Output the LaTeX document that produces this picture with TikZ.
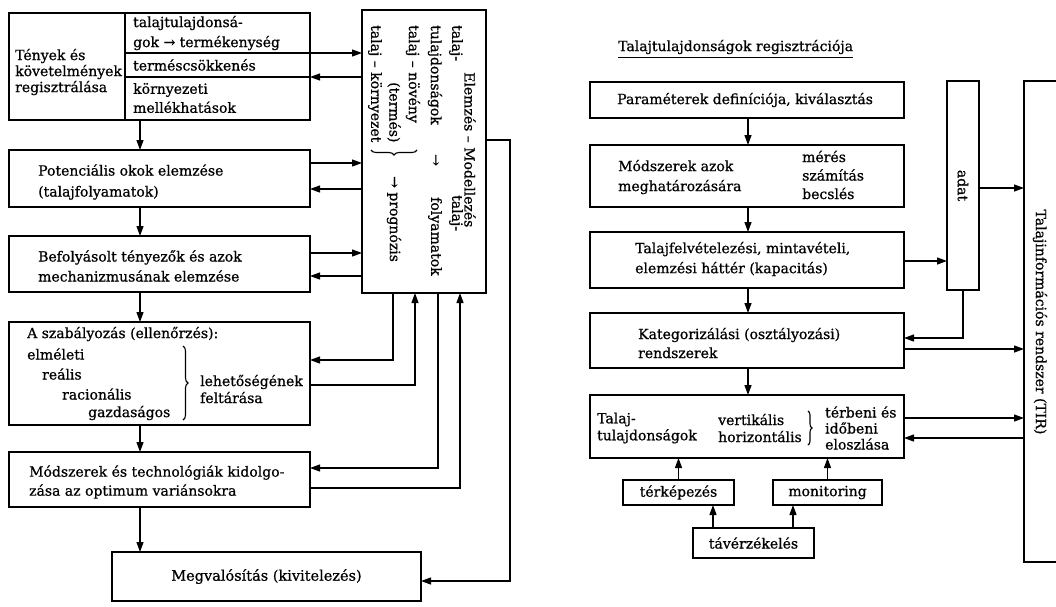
\documentclass[tikz,border=0pt]{standalone}
\usepackage{fontspec}
\setmainfont{DejaVu Serif}[FakeBold=0.8]
\usetikzlibrary{arrows.meta,fit,decorations.pathreplacing}
\begin{document}
\begin{tikzpicture}[x=1pt,y=-1pt,
  bx/.style={draw,line width=1.3pt,inner sep=0pt,outer sep=0pt},
  ln/.style={line width=1.2pt},
  ar/.style={line width=1.2pt,-{Triangle[length=10pt,width=7pt]}},
  tx/.style={anchor=west,inner sep=0pt,align=left,font=\fontsize{14}{#1}\selectfont},
  tx/.default=19,
  ct/.style={inner sep=0pt,font=\fontsize{14}{19}\selectfont},
  rt/.style={rotate=-90,anchor=west,inner sep=0pt,font=\fontsize{14}{19}\selectfont},
  br/.style={line width=1.1pt,decorate,decoration={brace,amplitude=#1}},
  br/.default=5pt]
\clip (0,0) rectangle (1056,606);
\fill[white] (0,0) rectangle (1056,606);
% helper coordinates
\coordinate (xL) at (140,0);
\coordinate (xd) at (125,0);
\coordinate (xR) at (748,0);
\coordinate (x393) at (393,0);
\coordinate (x415) at (415,0);
\coordinate (x438) at (438,0);
\coordinate (x460) at (460,0);
\coordinate (x713) at (713,0);
\coordinate (x793) at (793,0);
\coordinate (r53) at (0,53);
\coordinate (r77) at (0,77);
\coordinate (r140) at (0,140);
\coordinate (r163) at (0,163);
\coordinate (r189) at (0,189);
\coordinate (r253) at (0,253);
\coordinate (r276) at (0,276);
\coordinate (r360) at (0,360);
\coordinate (r385) at (0,385);
\coordinate (r468) at (0,468);
\coordinate (r488) at (0,488);
\coordinate (k1) at (510,581);
\coordinate (r188) at (0,188);
\coordinate (r261) at (0,261);
\coordinate (r338) at (0,338);
\coordinate (r349) at (0,349);
\coordinate (r418) at (0,418);
\coordinate (r438) at (0,438);
\coordinate (u57) at (0,57);
% ---------------- left part ----------------
\node[bx,fit={(9,13)(310,120)}] (b1) {};
\node[bx,fit={(362,10)(486,293)}] (e) {};
\node[bx,fit={(9,150)(310,207)}] (b2) {};
\node[bx,fit={(9,236)(310,292)}] (b3) {};
\node[bx,fit={(9,322)(310,425)}] (b4) {};
\node[bx,fit={(9,452)(310,507)}] (b5) {};
\node[bx,fit={(112,552)(421,601)}] (b6) {};
\draw[ln] (b1.north -| xd) -- (b1.south -| xd);
\draw[ln] (xd |- r77) -- (b1.east |- r77);
\node[tx=16] (t1a) at (15,72) {Tények és\\követelmények\\regisztrálása};
\node[tx=20] (t1b) at (133,33) {talajtulajdonsá-\\gok → termékenység};
\node[tx] (t1c) at (133,65) {terméscsökkenés};
\node[tx=19] (t1d) at (133,98) {környezeti\\mellékhatások};
\node[rt] (e1) at (470,72) {Elemzés – Modellezés};
\node[rt] (e2) at (456,25) {talaj-};
\node[rt] (e3) at (435,25) {tulajdonságok};
\node[rt] (e4) at (413,25) {talaj – növény};
\node[rt] (e5) at (394,82) {(termés)};
\node[rt] (e6) at (375,25) {talaj – környezet};
\node[rt] (e7) at (435,154) {→};
\node[rt] (e8) at (456,195) {talaj-};
\node[rt] (e9) at (435,197) {folyamatok};
\node[rt] (e10) at (394,176) {→ prognózis};
\draw[br] (417,150) -- (371,150);
\node[tx=21] (t2) at (38,182) {Potenciális okok elemzése\\(talajfolyamatok)};
\node[tx=20] (t3) at (38,266) {Befolyásolt tényezők és azok\\mechanizmusának elemzése};
\node[tx] (t4a) at (27,334) {A szabályozás (ellenőrzés):};
\node[tx] (t4b) at (27,354) {elméleti};
\node[tx] (t4c) at (42,374) {reális};
\node[tx] (t4d) at (62,394) {racionális};
\node[tx] (t4e) at (88,413) {gazdaságos};
\draw[br] (183,346) -- (183,420);
\node[tx=17] (t4f) at (200,389) {lehetőségének\\feltárása};
\node[tx=19] (t5) at (29,482) {Módszerek és technológiák kidolgo-\\zása az optimum variánsokra};
\node[ct,font=\fontsize{14.5}{19}\selectfont] (t6) at (b6.center) {Megvalósítás (kivitelezés)};
% left connectors
\draw[ar] (b1.south -| xL) -- (b2.north -| xL);
\draw[ar] (b2.south -| xL) -- (b3.north -| xL);
\draw[ar] (b3.south -| xL) -- (b4.north -| xL);
\draw[ar] (b4.south -| xL) -- (b5.north -| xL);
\draw[ar] (b5.south -| xL) -- (b6.north -| xL);
\draw[ar] (xd |- r53) -- (e.west |- r53);
\draw[ar] (e.west |- r77) -- (b1.east |- r77);
\draw[ar] (b2.east |- r163) -- (e.west |- r163);
\draw[ar] (e.west |- r189) -- (b2.east |- r189);
\draw[ar] (b3.east |- r253) -- (e.west |- r253);
\draw[ar] (e.west |- r276) -- (b3.east |- r276);
\draw[ar] (e.south -| x393) |- (b4.east |- r360);
\draw[ar] (b4.east |- r385) -| (e.south -| x415);
\draw[ar] (e.south -| x438) |- (b5.east |- r468);
\draw[ar] (b5.east |- r488) -| (e.south -| x460);
\draw[ar] (e.east |- r140) -| (k1) -- (b6.east |- k1);
% ---------------- right part ----------------
\node[tx] (ttl) at (618,47) {Talajtulajdonságok regisztrációja};
\draw[line width=1pt] (ttl.west |- u57) -- (ttl.east |- u57);
\node[bx,fit={(590,82)(904,118)}] (R1) {};
\node[bx,fit={(590,145)(904,207)}] (R2) {};
\node[bx,fit={(590,232)(904,288)}] (R3) {};
\node[bx,fit={(590,313)(904,368)}] (R4) {};
\node[bx,fit={(590,395)(904,458)}] (R5) {};
\node[bx,fit={(623,480)(734,505)}] (tk) {};
\node[bx,fit={(773,480)(882,505)}] (mo) {};
\node[bx,fit={(693,528)(814,558)}] (tv) {};
\node[bx,fit={(947,81)(979,290)}] (ad) {};
\node[bx,fit={(1024,81)(1090,562)}] (tir) {};
\node[tx] (r1t) at (617,100) {Paraméterek definíciója, kiválasztás};
\node[tx=20] (r2a) at (618,177) {Módszerek azok\\meghatározására};
\node[tx=18.5] (r2b) at (802,175) {mérés\\számítás\\becslés};
\node[tx=20] (r3t) at (635,259) {Talajfelvételezési, mintavételi,\\elemzési háttér (kapacitás)};
\node[tx=19] (r4t) at (638,343) {Kategorizálási (osztályozási)\\rendszerek};
\node[tx=17] (r5a) at (597,428) {Talaj-\\tulajdonságok};
\node[tx=17] (r5b) at (718,428) {vertikális\\horizontális};
\draw[br=4pt] (808,411) -- (808,445);
\node[tx=16] (r5c) at (825,428) {térbeni és\\időbeni\\eloszlása};
\node[ct] (tkt) at (tk.center) {térképezés};
\node[ct] (mot) at (mo.center) {monitoring};
\node[ct] (tvt) at (tv.center) {távérzékelés};
\node[ct,rotate=-90] (adt) at (ad.center) {adat};
\node[ct,rotate=-90] (tirt) at (1040,322) {Talajinformációs rendszer (TIR)};
% right connectors
\draw[ar] (R1.south -| xR) -- (R2.north -| xR);
\draw[ar] (R2.south -| xR) -- (R3.north -| xR);
\draw[ar] (R3.south -| xR) -- (R4.north -| xR);
\draw[ar] (R4.south -| xR) -- (R5.north -| xR);
\draw[ar] (tk.north) -- (R5.south -| tk.north);
\draw[ar] (mo.north) -- (R5.south -| mo.north);
\draw[ar] (tv.north -| x713) -- (tk.south -| x713);
\draw[ar] (tv.north -| x793) -- (mo.south -| x793);
\draw[ar] (R3.east |- r261) -- (ad.west |- r261);
\draw[ar] (ad.east |- r188) -- (tir.west |- r188);
\draw[ar] (ad.south) |- (R4.east |- r338);
\draw[ar] (R4.east |- r349) -- (tir.west |- r349);
\draw[ar] (R5.east |- r418) -- (tir.west |- r418);
\draw[ar] (tir.west |- r438) -- (R5.east |- r438);
\end{tikzpicture}
\end{document}
